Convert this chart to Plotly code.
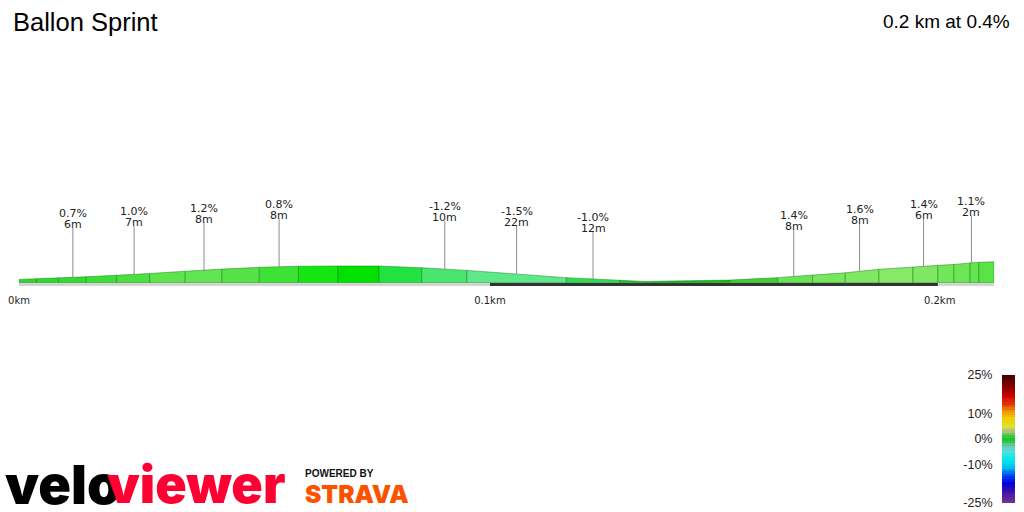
import plotly.graph_objects as go

title = 'Ballon Sprint'
summary = '0.2 km at 0.4%'

# segment boundaries along the route (km) and elevation there (m above the low point)
dist_km = [0.0, 0.0038, 0.0086, 0.0146, 0.0212, 0.0284, 0.0361, 0.0441, 0.0522, 0.0607,
           0.0693, 0.0782, 0.0875, 0.0973, 0.1189, 0.1305, 0.1359, 0.1544, 0.1648, 0.1724,
           0.1795, 0.1868, 0.1942, 0.1996, 0.2031, 0.2066, 0.2085, 0.2118]
elev_m = [0.15, 0.18, 0.22, 0.27, 0.34, 0.42, 0.52, 0.62, 0.70, 0.75,
          0.76, 0.76, 0.68, 0.56, 0.23, 0.11, 0.06, 0.12, 0.23, 0.35,
          0.45, 0.61, 0.71, 0.79, 0.83, 0.90, 0.93, 0.95]
seg_colors = ['#30d82e', '#2ed82c', '#34da30', '#3edc38', '#4cdf42', '#60e44e', '#62e550',
              '#56e247', '#3ce334', '#14e614', '#00e100', '#22e23f', '#48e56f', '#5fe889',
              '#2ede55', '#10cc20', '#0cc018', '#3fd030', '#6ae455', '#78e65e', '#80e762',
              '#88e868', '#80e765', '#70e658', '#6ce654', '#64e650', '#58e444']

# climb callouts
stem_km = [0.0117, 0.0250, 0.0402, 0.0565, 0.0925, 0.1081, 0.1247, 0.1683, 0.1826, 0.1965, 0.2069]
stem_base = [0.24, 0.35, 0.53, 0.70, 0.62, 0.41, 0.17, 0.29, 0.53, 0.75, 0.90]
stem_top = [2.50, 2.58, 2.74, 2.92, 2.81, 2.58, 2.35, 2.44, 2.67, 2.90, 3.04]
stem_pct = ['0.7%', '1.0%', '1.2%', '0.8%', '-1.2%', '-1.5%', '-1.0%', '1.4%', '1.6%', '1.4%', '1.1%']
stem_len = ['6m', '7m', '8m', '8m', '10m', '22m', '12m', '8m', '8m', '6m', '2m']

km_ticks = [0.0, 0.1023, 0.2]
km_labels = ['0km', '0.1km', '0.2km']
strip_ends = [0.0, 0.2118]
dark_ends = [0.1023, 0.1996]

# gradient key
key_levels = list(range(-25, 26))
key_ticks = [25, 10, 0, -10, -25]
key_labels = ['25%', '10%', '0%', '-10%', '-25%']
key_grades = [-25, -20, -17, -14, -11, -8, -5, -2.5, -0.5, 0.5, 3, 5, 8, 11, 14, 17, 20, 25]
key_colors = ['#7a3590', '#3010b0', '#0000dd', '#0050f0', '#00c0f0', '#00e8f0', '#50e0e0', '#70c8b0',
              '#20c030', '#10d020', '#b0c080', '#e0e030', '#f0d000', '#f09000', '#e03000', '#cc0000',
              '#900000', '#400000']

fig = go.Figure()

for i in range(len(seg_colors)):
    fig.add_trace(go.Scatter(
        x=[dist_km[i], dist_km[i + 1], dist_km[i + 1], dist_km[i], dist_km[i]],
        y=[0, 0, elev_m[i + 1], elev_m[i], 0],
        mode='lines', fill='toself', fillcolor=seg_colors[i],
        line=dict(color='rgba(20,120,20,0.45)', width=1),
        hoverinfo='skip'))

fig.add_trace(go.Scatter(x=strip_ends, y=[-0.08, -0.08], mode='lines',
                         line=dict(color='#d4d4d4', width=3), hoverinfo='skip'))
fig.add_trace(go.Scatter(x=dark_ends, y=[-0.08, -0.08], mode='lines',
                         line=dict(color='#333333', width=3), hoverinfo='skip'))

stem_x = []
stem_y = []
for i in range(len(stem_km)):
    stem_x += [stem_km[i], stem_km[i], None]
    stem_y += [stem_base[i], stem_top[i], None]
fig.add_trace(go.Scatter(x=stem_x, y=stem_y, mode='lines',
                         line=dict(color='#8c8c8c', width=1), hoverinfo='skip'))

for i in range(len(stem_km)):
    fig.add_annotation(x=stem_km[i], y=stem_top[i], text=stem_len[i], showarrow=False,
                       yanchor='middle', yshift=3, font=dict(family='DejaVu Sans', size=11, color='#222222'))
    fig.add_annotation(x=stem_km[i], y=stem_top[i], text=stem_pct[i], showarrow=False,
                       yanchor='middle', yshift=14, font=dict(family='DejaVu Sans', size=11, color='#222222'))

top = key_grades[-1]
bottom = key_grades[0]
fig.add_trace(go.Heatmap(
    x=[0], y=key_levels, z=[[g] for g in key_levels], xaxis='x2', yaxis='y2',
    zmin=bottom, zmax=top, showscale=False, hoverinfo='skip',
    colorscale=[[(g - bottom) / (top - bottom), c] for g, c in zip(key_grades, key_colors)]))

fig.add_annotation(xref='paper', yref='paper', x=11 / 1024, y=490 / 512, text=title, showarrow=False,
                   xanchor='left', yanchor='middle', font=dict(family='Liberation Sans', size=25.5, color='#000000'))
fig.add_annotation(xref='paper', yref='paper', x=1012 / 1024, y=491 / 512, text=summary, showarrow=False,
                   xanchor='right', yanchor='middle', font=dict(family='Liberation Sans', size=19, color='#000000'))

# logos
fig.add_annotation(xref='paper', yref='paper', x=3 / 1024, y=28 / 512, text='velo', showarrow=False,
                   xanchor='left', yanchor='middle',
                   font=dict(family='Inter', size=54, weight=900, color='#000000'))
fig.add_annotation(xref='paper', yref='paper', x=287 / 1024, y=28 / 512, text='viewer', showarrow=False,
                   xanchor='right', yanchor='middle',
                   font=dict(family='Inter', size=52, weight=900, color='#ff0033'))
fig.add_annotation(xref='paper', yref='paper', x=303 / 1024, y=39 / 512, text='POWERED BY', showarrow=False,
                   xanchor='left', yanchor='middle',
                   font=dict(family='Liberation Sans', size=10, weight=700, color='#111111'))
fig.add_annotation(xref='paper', yref='paper', x=303 / 1024, y=18 / 512, text='STRAVA', showarrow=False,
                   xanchor='left', yanchor='middle',
                   font=dict(family='Inter', size=24.5, weight=900, color='#fc5200'))

fig.update_layout(
    width=1024, height=512, showlegend=False, hovermode=False,
    margin=dict(l=0, r=0, t=0, b=0), paper_bgcolor='white', plot_bgcolor='white',
    xaxis=dict(domain=[19 / 1024, 994 / 1024], range=[0, 0.2118], showgrid=False, zeroline=False,
               automargin=False, tickmode='array', tickvals=km_ticks, ticktext=km_labels,
               ticks='outside', ticklen=5, tickcolor='white',
               tickfont=dict(family='DejaVu Sans', size=10, color='#222222')),
    yaxis=dict(domain=[226 / 512, 1], range=[-0.15, 12.85], visible=False, automargin=False),
    xaxis2=dict(domain=[1002 / 1024, 1015 / 1024], anchor='y2', visible=False, automargin=False),
    yaxis2=dict(domain=[9 / 512, 137 / 512], anchor='x2', range=[-25, 25], showgrid=False, zeroline=False,
                automargin=False, tickmode='array', tickvals=key_ticks, ticktext=key_labels,
                ticks='outside', ticklen=6, tickcolor='white',
                tickfont=dict(family='Liberation Sans', size=12.5, color='#222222')),
)

fig.write_html("out.html", config=dict(displayModeBar=False),
               post_script="document.body.style.margin='0';")
